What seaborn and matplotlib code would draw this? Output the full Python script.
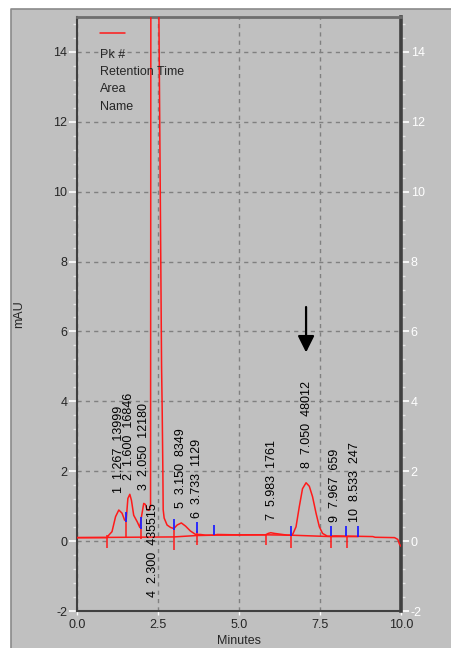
import matplotlib
matplotlib.use("Agg")
import matplotlib.pyplot as plt
from matplotlib.patches import Rectangle
from matplotlib.lines import Line2D
from matplotlib.ticker import MultipleLocator
import seaborn as sns
import pandas as pd

# ---- data ----
time_min = [0.00, 0.50, 0.93, 0.98, 1.08, 1.19, 1.29, 1.39, 1.47, 1.52, 1.57, 1.63,
            1.68, 1.75, 1.86, 1.94, 1.99, 2.06, 2.11, 2.16, 2.22, 2.27, 2.28, 2.40,
            2.52, 2.57, 2.61, 2.63, 2.65, 2.66, 2.69, 2.78, 2.89, 2.99, 3.09, 3.22,
            3.35, 3.50, 3.66, 3.81, 3.97, 4.23, 4.33, 4.90, 5.50, 5.82, 5.90, 5.98,
            6.10, 6.26, 6.50, 6.60, 6.66, 6.76, 6.86, 6.96, 7.07, 7.17, 7.27, 7.38,
            7.48, 7.58, 7.73, 7.97, 8.53, 9.13, 9.20, 9.80, 9.90, 9.95, 10.00]
signal_mau = [0.10, 0.10, 0.10, 0.17, 0.27, 0.70, 0.89, 0.80, 0.60, 0.62, 1.22, 1.34,
              1.17, 0.74, 0.55, 0.39, 0.70, 1.08, 1.05, 0.90, 0.88, 1.00, 16.0, 40.0,
              16.0, 10.0, 5.00, 3.70, 2.00, 0.90, 0.66, 0.46, 0.39, 0.36, 0.46, 0.52,
              0.43, 0.29, 0.19, 0.19, 0.17, 0.17, 0.19, 0.18, 0.18, 0.18, 0.22, 0.24,
              0.22, 0.20, 0.17, 0.17, 0.20, 0.41, 0.98, 1.50, 1.67, 1.57, 1.27, 0.79,
              0.41, 0.22, 0.14, 0.15, 0.14, 0.13, 0.11, 0.10, 0.05, -0.08, -0.15]

baseline_t = [0.00, 2.99, 3.69, 4.23, 5.82, 6.60, 7.83, 8.32, 8.68]
baseline_v = [0.10, 0.12, 0.16, 0.17, 0.18, 0.17, 0.13, 0.13, 0.13]

pk_num = [1, 2, 3, 4, 5, 6, 7, 8, 9, 10]
pk_time = ["1.267", "1.600", "2.050", "2.300", "3.150", "3.733", "5.983", "7.050", "7.967", "8.533"]
pk_area = [13999, 16846, 12180, 435515, 8349, 1129, 1761, 48012, 659, 247]
label_x = [1.30, 1.60, 2.08, 2.36, 3.22, 3.71, 6.03, 7.10, 7.97, 8.59]
label_y = [1.37, 1.74, 1.46, -1.60, 0.94, 0.66, 0.60, 2.09, 0.54, 0.54]

red_tick_t = [0.93, 1.52, 1.96, 2.99, 3.69, 5.82, 6.60, 7.83, 8.32]
red_tick_top = [0.17, 0.60, 0.40, 0.36, 0.30, 0.17, 0.17, 0.14, 0.13]
red_tick_bot = [-0.21, 0.08, 0.05, -0.25, -0.10, -0.10, -0.20, -0.20, -0.20]

blue_tick_t = [1.51, 1.96, 2.99, 3.69, 4.23, 6.60, 7.83, 8.30, 8.68]
blue_tick_bot = [0.55, 0.36, 0.33, 0.22, 0.17, 0.14, 0.14, 0.14, 0.12]
blue_tick_top = [0.84, 0.68, 0.63, 0.55, 0.46, 0.42, 0.42, 0.42, 0.42]

legend_lines = ["Pk #", "Retention Time", "Area", "Name"]
arrow_t = 7.07
arrow_from = 6.70
arrow_to = 5.40

# ---- styling ----
sns.set_style("white")
plt.rcParams["font.family"] = ["Liberation Sans", "DejaVu Sans"]
plt.rcParams["font.size"] = 9
plt.rcParams["axes.unicode_minus"] = False

GRAY = "#c0c0c0"
fig = plt.figure(figsize=(4.52, 6.48), dpi=100, facecolor="white")
x0, y1 = 11 / 452, 1 - 9 / 648
fig.patches.append(Rectangle((x0, 0), 1 - x0, y1, transform=fig.transFigure,
                             facecolor=GRAY, edgecolor="none", zorder=-10))
fig.lines.append(Line2D([x0, x0, 1], [0, y1, y1], transform=fig.transFigure,
                        color="#8a8a8a", linewidth=1.2, zorder=-9))
ax = fig.add_axes([77 / 452, 37 / 648, 324 / 452, 594 / 648])
ax.set_zorder(1)
ax.set_facecolor(GRAY)

df = pd.DataFrame({"Minutes": time_min, "mAU": signal_mau})
sns.lineplot(data=df, x="Minutes", y="mAU", ax=ax, color="#ff1a1a",
             linewidth=1.1, sort=False, estimator=None, zorder=3)
bdf = pd.DataFrame({"t": baseline_t, "v": baseline_v})
sns.lineplot(data=bdf, x="t", y="v", ax=ax, color="#ff1a1a",
             linewidth=1.1, sort=False, estimator=None, zorder=3)

ax.vlines(red_tick_t, red_tick_bot, red_tick_top, color="#ff1a1a", linewidth=1.1, zorder=3)
ax.vlines(blue_tick_t, blue_tick_bot, blue_tick_top, color="#2020ff", linewidth=1.3, zorder=4)

for n, t, a, x, y in zip(pk_num, pk_time, pk_area, label_x, label_y):
    ax.text(x, y, f"{n}  {t}  {a}", rotation=90, ha="center", va="bottom",
            fontsize=9, color="black", zorder=5)

ax.annotate("", xy=(arrow_t, arrow_to), xytext=(arrow_t, arrow_from),
            arrowprops=dict(arrowstyle="-|>,head_length=0.5,head_width=0.25",
                            color="black", lw=1.6, mutation_scale=20,
                            shrinkA=0, shrinkB=0), zorder=6)

# legend block
ax.plot([0.071, 0.148], [0.973, 0.973], transform=ax.transAxes, color="#ff1a1a", lw=1.1)
for txt, yy in zip(legend_lines, [0.936, 0.907, 0.879, 0.848]):
    ax.text(0.071, yy, txt, transform=ax.transAxes, ha="left", va="center", fontsize=9)

ax.set_xlim(0, 10)
ax.set_ylim(-2, 15)
ax.xaxis.set_major_locator(MultipleLocator(2.5))
ax.yaxis.set_major_locator(MultipleLocator(2))
ax.yaxis.set_minor_locator(MultipleLocator(0.4))
ax.xaxis.set_major_formatter(matplotlib.ticker.FormatStrFormatter("%.1f"))
ax.grid(True, which="major", color="#808080", linestyle=(0, (3, 3)), linewidth=1)
ax.set_axisbelow(True)

ax.tick_params(axis="y", which="major", direction="out", length=6, width=1.2,
               color="white", left=True, right=True, labelleft=True, labelright=True, pad=1)
ax.tick_params(axis="y", which="minor", direction="out", length=3, width=1,
               color="#e8e8e8", left=True, right=True)
ax.tick_params(axis="x", which="major", direction="out", length=3, width=1,
               color="white", bottom=True, pad=3)
for tk in ax.yaxis.get_major_ticks():
    tk.label2.set_color("white")

for side, col, lw in [("left", "#404040", 1.5), ("bottom", "#404040", 1.5),
                      ("top", "#6e6e6e", 2.0), ("right", "#404040", 2.6)]:
    ax.spines[side].set_visible(True)
    ax.spines[side].set_color(col)
    ax.spines[side].set_linewidth(lw)

ax.set_xlabel("Minutes", fontsize=9)
ax.set_ylabel("mAU", fontsize=9)
ax.xaxis.set_label_coords(0.5, -0.041)
ax.yaxis.set_label_coords(-0.160, 0.5)

fig.savefig("out.png", dpi=100, facecolor=fig.get_facecolor())
